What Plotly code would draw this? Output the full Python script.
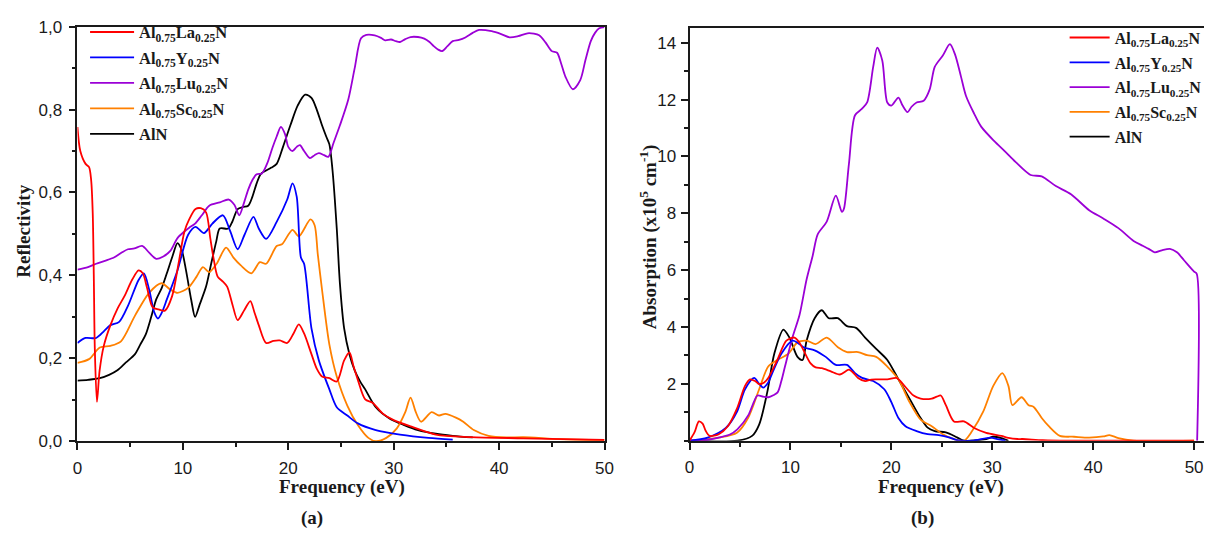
import plotly.graph_objects as go

# ---------------- Reflectivity (panel a) ----------------
refl_la_ev = [0, 0.27, 0.77, 1.1, 1.3, 1.45, 1.55, 1.65, 1.85, 2.1, 2.5, 3.13, 3.8, 4.46, 5.2, 5.8, 6.2, 6.6,
              7.14, 7.7, 8.3, 8.98, 9.6, 10.15, 10.6, 11.2, 11.7, 12.2, 12.6, 12.9, 13.3, 13.8, 14.2, 14.7,
              15.2, 15.8, 16.4, 16.8, 17.2, 17.9, 18.6, 19.2, 19.9, 20.5, 21.0, 21.5, 22.2, 22.7, 23.2, 23.9,
              24.6, 25.3, 25.8, 26.2, 26.6, 27.3, 28.0, 29.0, 30.0, 31.7, 34.0, 37.3, 42.3, 50]
refl_la = [0.758, 0.70, 0.669, 0.661, 0.63, 0.55, 0.40, 0.22, 0.095, 0.17, 0.23, 0.28, 0.32, 0.35, 0.39, 0.412,
           0.405, 0.37, 0.323, 0.318, 0.315, 0.35, 0.43, 0.506, 0.535, 0.56, 0.562, 0.552, 0.49, 0.443, 0.397,
           0.385, 0.373, 0.33, 0.292, 0.315, 0.338, 0.31, 0.28, 0.237, 0.242, 0.243, 0.237, 0.26, 0.282, 0.26,
           0.21, 0.175, 0.156, 0.152, 0.144, 0.195, 0.214, 0.18, 0.148, 0.101, 0.093, 0.066, 0.051, 0.035,
           0.016, 0.010, 0.007, 0.003]

refl_y_ev = [0, 0.77, 1.78, 2.5, 3.13, 3.96, 4.8, 5.8, 6.3, 6.8, 7.3, 7.64, 8.0, 8.48, 9.49, 10.5, 11.2, 12.0,
             12.8, 13.8, 14.5, 15.2, 15.85, 16.7, 17.2, 17.9, 18.9, 19.9, 20.4, 20.8, 21.2, 21.5, 22.2, 22.9,
             23.9, 24.6, 25.6, 26.6, 28.3, 30.6, 33.3, 35.6]
refl_y = [0.237, 0.249, 0.249, 0.265, 0.28, 0.288, 0.327, 0.389, 0.405, 0.366, 0.31, 0.296, 0.31, 0.342, 0.412,
          0.498, 0.517, 0.502, 0.525, 0.545, 0.506, 0.463, 0.498, 0.541, 0.513, 0.488, 0.529, 0.583, 0.622,
          0.59, 0.443, 0.428, 0.272, 0.195, 0.125, 0.082, 0.062, 0.043, 0.027, 0.016, 0.008, 0.004]

refl_lu_ev = [0, 1.0, 1.78, 2.6, 3.46, 4.2, 4.79, 5.4, 6.13, 6.8, 7.47, 8.1, 8.81, 9.49, 10.15, 10.6, 11.16,
              11.8, 12.5, 13.5, 14.35, 14.9, 15.35, 15.8, 16.2, 16.6, 17.0, 17.5, 18.0, 18.5, 18.9, 19.3,
              19.7, 20.0, 20.4, 20.8, 21.1, 21.5, 22.05, 22.5, 22.9, 23.4, 23.8, 24.3, 24.9, 25.7, 26.3, 26.9,
              27.4, 28.2, 28.8, 29.2, 29.75, 30.2, 30.6, 31.1, 31.6, 32.3, 32.9, 33.4, 33.8, 34.2, 34.6, 35.1,
              35.6, 36.2, 36.8, 37.5, 38.1, 39.3, 40.2, 41.0, 41.8, 42.7, 43.3, 43.8, 44.4, 45.0, 45.5, 45.9,
              46.3, 47.0, 47.7, 48.2, 48.7, 49.1, 49.5, 50]
refl_lu = [0.414, 0.42, 0.428, 0.435, 0.443, 0.455, 0.463, 0.465, 0.471, 0.455, 0.44, 0.445, 0.459, 0.49, 0.506,
           0.515, 0.525, 0.545, 0.568, 0.576, 0.583, 0.57, 0.545, 0.575, 0.607, 0.63, 0.644, 0.646, 0.67, 0.708,
           0.735, 0.758, 0.74, 0.71, 0.70, 0.71, 0.714, 0.70, 0.683, 0.69, 0.695, 0.69, 0.686, 0.72, 0.762,
           0.825, 0.90, 0.972, 0.98, 0.979, 0.973, 0.967, 0.969, 0.965, 0.963, 0.97, 0.975, 0.975, 0.971, 0.963,
           0.953, 0.945, 0.941, 0.953, 0.965, 0.968, 0.974, 0.985, 0.992, 0.989, 0.982, 0.974, 0.977, 0.984,
           0.983, 0.979, 0.962, 0.941, 0.937, 0.91, 0.879, 0.849, 0.871, 0.92, 0.965, 0.985, 0.996, 0.999]

refl_sc_ev = [0, 1.1, 2.12, 3.13, 4.13, 5.46, 6.8, 7.97, 8.8, 9.5, 10.5, 11.3, 11.9, 12.5, 13.2, 14.1, 14.8,
              15.5, 16.5, 17.3, 17.9, 18.9, 19.4, 20.4, 21.0, 22.1, 22.5, 22.8, 23.2, 23.9, 24.6, 25.6, 26.6,
              27.6, 28.3, 29.3, 30.3, 31.1, 31.6, 32.1, 32.6, 33.6, 34.3, 34.9, 35.9, 36.6, 37.6, 39.0, 40.7,
              42.3, 45.7, 50]
refl_sc = [0.189, 0.198, 0.226, 0.23, 0.241, 0.303, 0.358, 0.381, 0.366, 0.358, 0.37, 0.397, 0.42, 0.408, 0.428,
           0.467, 0.443, 0.424, 0.405, 0.432, 0.428, 0.471, 0.475, 0.51, 0.494, 0.535, 0.521, 0.451, 0.366,
           0.233, 0.156, 0.086, 0.039, 0.008, 0.0, 0.008, 0.031, 0.07, 0.105, 0.07, 0.047, 0.07, 0.062, 0.066,
           0.057, 0.047, 0.027, 0.013, 0.009, 0.010, 0.005, 0.003]

refl_aln_ev = [0, 1.0, 2.12, 3.0, 3.79, 4.6, 5.46, 6.0, 6.47, 7.0, 7.47, 8.0, 8.48, 9.0, 9.49, 9.9, 10.3, 10.8,
               11.16, 11.6, 12.2, 12.7, 13.17, 13.5, 14.3, 14.7, 15.2, 15.7, 16.2, 16.6, 17.0, 17.4, 17.9, 18.4,
               18.9, 19.5, 20.2, 20.9, 21.6, 22.2, 22.7, 23.2, 23.6, 23.9, 24.2, 24.6, 24.9, 25.3, 25.8, 26.3,
               26.8, 27.3, 28.3, 29.6, 31.0, 32.3, 34.0, 35.6, 37.5]
refl_aln = [0.146, 0.148, 0.152, 0.16, 0.171, 0.19, 0.21, 0.235, 0.257, 0.30, 0.342, 0.37, 0.405, 0.445, 0.478,
            0.46, 0.412, 0.34, 0.30, 0.33, 0.373, 0.43, 0.482, 0.513, 0.513, 0.53, 0.56, 0.565, 0.568, 0.59,
            0.622, 0.645, 0.653, 0.66, 0.669, 0.71, 0.762, 0.81, 0.836, 0.828, 0.80, 0.762, 0.735, 0.716, 0.653,
            0.513, 0.38, 0.272, 0.21, 0.171, 0.145, 0.125, 0.082, 0.055, 0.039, 0.027, 0.018, 0.013, 0.009]

# ---------------- Absorption (panel b), units of 1e5 cm^-1 ----------------
abs_la_ev = [0, 0.5, 0.93, 1.3, 1.6, 2.0, 2.9, 3.8, 4.7, 5.5, 6.0, 6.5, 6.9, 7.4, 7.8, 8.7, 9.6, 10.4, 10.9,
             11.3, 12.0, 12.5, 13.1, 14.0, 14.9, 15.8, 16.2, 16.7, 17.4, 18.0, 18.5, 19.6, 20.5, 20.9, 21.3,
             22.2, 22.9, 24.0, 24.5, 24.9, 25.4, 26.2, 27.2, 28.2, 29.4, 30.9, 31.6, 32.5, 33.0, 35.0, 37.4, 50]
abs_la = [0, 0.3, 0.68, 0.6, 0.35, 0.17, 0.23, 0.51, 1.13, 1.93, 2.16, 2.1, 1.99, 2.05, 2.21, 2.84, 3.52, 3.63,
          3.45, 3.18, 2.72, 2.58, 2.55, 2.44, 2.33, 2.50, 2.40, 2.21, 2.10, 2.15, 2.16, 2.16, 2.21, 2.10, 1.93,
          1.59, 1.48, 1.48, 1.55, 1.59, 1.25, 0.68, 0.68, 0.45, 0.28, 0.17, 0.10, 0.06, 0.06, 0.02, 0.0, 0.0]

abs_y_ev = [0, 1.8, 3.6, 4.7, 5.5, 6.4, 6.9, 7.3, 7.8, 8.2, 9.1, 10.2, 10.7, 11.3, 12.4, 13.5, 14.5, 15.6, 16.4,
            17.1, 18.2, 19.3, 20.0, 20.7, 21.4, 22.5, 23.6, 24.7, 25.8, 26.5, 28.0, 29.8, 30.5, 31.3]
abs_y = [0, 0.11, 0.45, 1.02, 1.81, 2.21, 2.0, 1.87, 2.05, 2.38, 3.06, 3.52, 3.45, 3.29, 3.18, 2.95, 2.67, 2.67,
         2.38, 2.21, 2.10, 1.81, 1.36, 0.80, 0.51, 0.34, 0.23, 0.20, 0.11, 0.02, 0.0, 0.11, 0.06, 0.0]

abs_lu_ev = [0, 1.5, 3.0, 4.0, 4.74, 5.83, 6.3, 6.73, 7.3, 7.82, 8.3, 8.73, 9.1, 9.46, 10.2, 10.9, 11.6, 12.2,
             12.7, 13.6, 14.5, 15.1, 15.3, 15.8, 16.4, 17.1, 17.6, 18.2, 18.6, 19.1, 19.6, 20.0, 20.7, 21.1,
             21.6, 22.0, 22.5, 23.2, 23.8, 24.3, 25.1, 25.8, 26.3, 26.9, 27.4, 28.2, 28.9, 30.2, 31.2, 32.3,
             33.8, 34.9, 36.3, 37.8, 39.6, 41.0, 42.5, 44.0, 44.9, 45.5, 46.1, 46.8, 47.6, 48.3, 49.0, 50.0,
             50.25, 50.3]
abs_lu = [0, 0.02, 0.12, 0.22, 0.40, 0.90, 1.30, 1.59, 1.55, 1.53, 1.60, 1.70, 2.10, 2.61, 3.63, 4.42, 5.67,
          6.50, 7.26, 7.71, 8.62, 8.05, 8.16, 9.75, 11.45, 11.68, 11.90, 13.15, 13.83, 13.38, 11.90, 11.79,
          12.07, 11.80, 11.56, 11.75, 11.90, 11.96, 12.36, 13.15, 13.55, 13.95, 13.60, 12.81, 12.13, 11.51,
          11.05, 10.54, 10.20, 9.81, 9.35, 9.30, 8.96, 8.67, 8.11, 7.82, 7.48, 7.03, 6.86, 6.75, 6.63, 6.70,
          6.75, 6.63, 6.35, 5.95, 5.88, 0.0]

abs_sc_ev = [0, 2.9, 4.7, 5.8, 6.9, 7.8, 8.7, 9.8, 10.7, 11.6, 12.5, 13.6, 14.7, 15.6, 16.7, 17.6, 18.5, 19.6,
             20.7, 21.8, 22.9, 24.0, 25.1, 26.2, 27.2, 28.0, 29.1, 30.1, 31.0, 31.6, 32.0, 32.9, 33.6, 34.1,
             34.9, 35.6, 36.7, 38.1, 39.6, 41.0, 41.6, 42.5, 44.0, 50]
abs_sc = [0, 0.11, 0.28, 0.80, 1.81, 2.61, 2.84, 3.06, 3.46, 3.52, 3.40, 3.63, 3.29, 3.12, 3.12, 3.01, 2.95,
          2.61, 2.16, 1.36, 0.74, 0.51, 0.23, 0.06, 0.0, 0.34, 1.02, 1.93, 2.38, 1.93, 1.25, 1.53, 1.25, 1.19,
          0.80, 0.51, 0.17, 0.14, 0.11, 0.15, 0.20, 0.09, 0.0, 0.0]

abs_aln_ev = [0, 4.74, 6.2, 6.9, 7.7, 8.4, 9.3, 9.9, 10.7, 11.2, 11.6, 12.4, 13.1, 13.8, 14.7, 15.6, 16.5, 17.4,
              18.5, 19.6, 20.7, 21.8, 22.9, 23.6, 24.3, 25.4, 26.5, 27.2, 29.4, 30.1, 30.9, 31.6]
abs_aln = [0, 0.0, 0.17, 0.57, 1.70, 3.06, 3.91, 3.63, 2.95, 2.84, 3.52, 4.31, 4.59, 4.31, 4.31, 4.03, 3.97,
           3.63, 3.23, 2.84, 2.16, 1.48, 0.80, 0.46, 0.34, 0.29, 0.12, 0.0, 0.06, 0.14, 0.09, 0.0]

names = ["Al<sub>0.75</sub>La<sub>0.25</sub>N", "Al<sub>0.75</sub>Y<sub>0.25</sub>N",
         "Al<sub>0.75</sub>Lu<sub>0.25</sub>N", "Al<sub>0.75</sub>Sc<sub>0.25</sub>N", "AlN"]
colors = ["#ff0000", "#0000ff", "#9b00d6", "#ff8000", "#000000"]

refl_sets = [(refl_la_ev, refl_la), (refl_y_ev, refl_y), (refl_lu_ev, refl_lu),
             (refl_sc_ev, refl_sc), (refl_aln_ev, refl_aln)]
abs_sets = [(abs_la_ev, abs_la), (abs_y_ev, abs_y), (abs_lu_ev, abs_lu),
            (abs_sc_ev, abs_sc), (abs_aln_ev, abs_aln)]

W, H = 1213, 539
SERIF = "Liberation Serif"
SANS = "Liberation Sans"
INK = "#1a1a1a"

fig = go.Figure()

# draw order: AlN and Sc underneath, La on top
order = [4, 3, 2, 1, 0]
for i in order:
    xs, ys = refl_sets[i]
    fig.add_trace(go.Scatter(x=xs, y=ys, mode="lines", name="<b>%s</b>" % names[i],
                             line=dict(color=colors[i], width=1.8, shape="spline", smoothing=0.8),
                             xaxis="x", yaxis="y", legend="legend", legendgroup="a%d" % i,
                             legendrank=i, hoverinfo="skip"))
for i in order:
    xs, ys = abs_sets[i]
    fig.add_trace(go.Scatter(x=xs, y=ys, mode="lines", name="<b>%s</b>" % names[i],
                             line=dict(color=colors[i], width=1.8, shape="spline", smoothing=0.8),
                             xaxis="x2", yaxis="y2", legend="legend2", legendgroup="b%d" % i,
                             legendrank=i, hoverinfo="skip"))


def px_x(p):
    return p / W


def px_y(p):
    return 1 - p / H


def axis_style(standoff):
    return dict(showline=True, linecolor=INK, linewidth=1.8, ticks="outside", ticklen=7,
                tickwidth=1.8, tickcolor=INK, showgrid=False, zeroline=False,
                ticklabelstandoff=standoff,
                tickfont=dict(family=SANS, size=17, color=INK))


fig.update_layout(
    width=W, height=H, margin=dict(l=0, r=0, t=0, b=0),
    paper_bgcolor="white", plot_bgcolor="white",
    separators=", ",
    showlegend=True,
    xaxis=dict(domain=[px_x(73.3), px_x(606.5)], range=[0, 50], tickvals=[0, 10, 20, 30, 40, 50],
               mirror=True, anchor="y",
               minor=dict(dtick=5, ticks="outside", ticklen=4, tickwidth=1.8, tickcolor=INK),
               **axis_style(3)),
    yaxis=dict(domain=[px_y(448), px_y(18.3)], range=[0, 1], tickvals=[0, 0.2, 0.4, 0.6, 0.8, 1.0],
               tickformat=".1f", mirror=True, anchor="x",
               minor=dict(dtick=0.1, ticks="outside", ticklen=4, tickwidth=1.8, tickcolor=INK),
               **axis_style(3)),
    xaxis2=dict(domain=[px_x(692.5), 1.0], range=[0, 50.98], tickvals=[0, 10, 20, 30, 40, 50],
                mirror=True, anchor="y2",
                minor=dict(dtick=5, ticks="outside", ticklen=4, tickwidth=1.8, tickcolor=INK),
                **axis_style(3)),
    yaxis2=dict(domain=[px_y(447.5), px_y(20)], range=[0, 14.51], tickvals=[2, 4, 6, 8, 10, 12, 14],
                anchor="x2",
                minor=dict(dtick=1, ticks="outside", ticklen=4, tickwidth=1.8, tickcolor=INK),
                **axis_style(1)),
    legend=dict(x=px_x(81), y=px_y(6), xanchor="left", yanchor="top", bgcolor="rgba(0,0,0,0)",
                font=dict(family=SERIF, size=16.5, color=INK), tracegroupgap=1, traceorder="grouped",
                itemwidth=44),
    legend2=dict(x=px_x(1072), y=px_y(12), xanchor="left", yanchor="top", bgcolor="rgba(0,0,0,0)",
                 font=dict(family=SERIF, size=16, color=INK), tracegroupgap=1, traceorder="grouped",
                 itemwidth=40),
)

ann_font = dict(family=SERIF, size=19, color=INK)


def label(text, x, y, angle=0):
    fig.add_annotation(text=text, textangle=angle, x=px_x(x), y=px_y(y), xref="paper", yref="paper",
                       xanchor="center", yanchor="middle", showarrow=False, font=ann_font)


label("<b>Reflectivity</b>", 19, 230, -90)
label("<b>Absorption (x10<sup>5</sup> cm<sup>-1</sup>)</b>", 651, 236, -90)
label("<b>Frequency (eV)</b>", 341, 495)
label("<b>Frequency (eV)</b>", 947, 495)
label("<b>(a)</b>", 311, 528)
label("<b>(b)</b>", 928, 528)

fig.write_html("out.html")
